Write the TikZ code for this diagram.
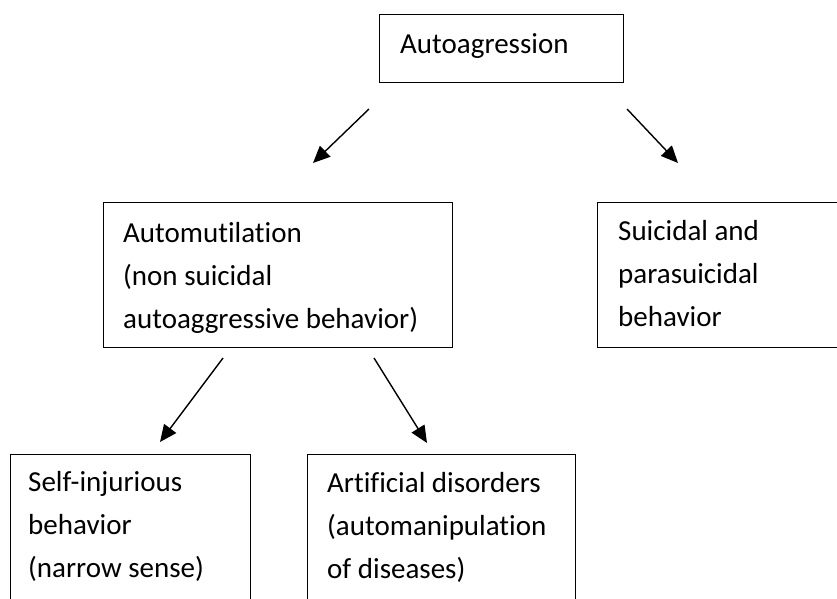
\documentclass[tikz,border=0pt]{standalone}
\usepackage{fontspec}
\setmainfont{Carlito}[Ligatures={NoCommon,NoContextual}]
\usetikzlibrary{arrows.meta}
\begin{document}
\begin{tikzpicture}[x=1pt,y=-1pt,
  box/.style={draw, line width=1.3pt, inner sep=0pt, anchor=north west},
  lbl/.style={anchor=base west, inner sep=0pt, align=left, font=\fontsize{29}{43}\selectfont},
  arr/.style={-{Triangle[length=17pt,width=15pt]}, line width=1.4pt}]
\useasboundingbox (0,0) rectangle (837,599);
\clip (0,0) rectangle (837,599);
% boxes
\node[box, minimum width=244pt, minimum height=68pt] (top) at (379,14) {};
\node[box, minimum width=349pt, minimum height=145pt] (auto) at (103,202) {};
\node[box, minimum width=273pt, minimum height=145pt] (suic) at (597,202) {};
\node[box, minimum width=240pt, minimum height=190pt] (self) at (10,454) {};
\node[box, minimum width=268pt, minimum height=190pt] (arti) at (307,454) {};
% texts (anchor = baseline of the last line)
\node[lbl] (topT) at (400,54) {Autoagression};
\node[lbl] (autoT) at (123,328) {Automutilation\\(non suicidal\\autoaggressive behavior)};
\node[lbl] (suicT) at (618,326) {Suicidal and\\parasuicidal\\behavior};
\node[lbl] (selfT) at (28,577) {Self-injurious\\behavior\\(narrow sense)};
\node[lbl] (artiT) at (327,578) {Artificial disorders\\(automanipulation\\of diseases)};
% arrows
\coordinate (a1s) at (369,109); \coordinate (a1e) at (313,163);
\coordinate (a2s) at (627,109); \coordinate (a2e) at (678,163);
\coordinate (a3s) at (223,358); \coordinate (a3e) at (160,442);
\coordinate (a4s) at (374,358); \coordinate (a4e) at (427,443);
\draw[arr] (a1s) -- (a1e);
\draw[arr] (a2s) -- (a2e);
\draw[arr] (a3s) -- (a3e);
\draw[arr] (a4s) -- (a4e);
\end{tikzpicture}
\end{document}
